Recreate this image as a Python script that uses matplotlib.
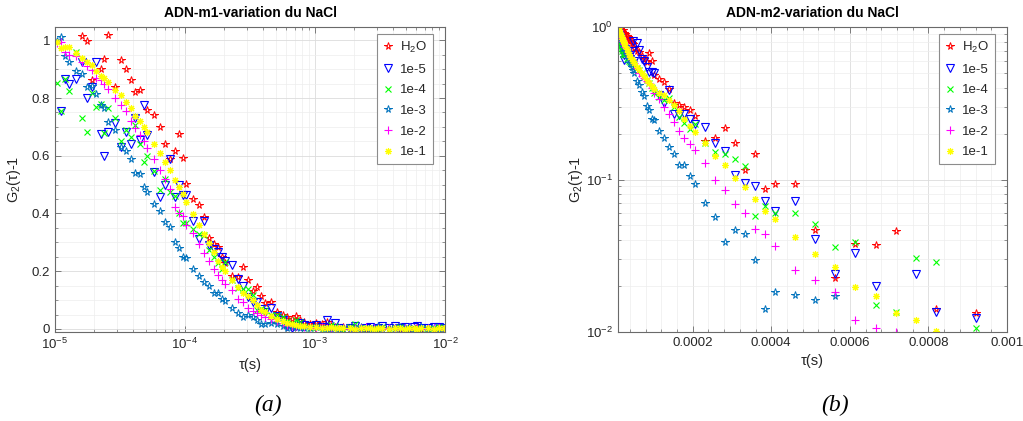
import numpy as np
import matplotlib
matplotlib.use("Agg")
import matplotlib.pyplot as plt
from matplotlib.ticker import FixedLocator, NullFormatter, LogLocator

plt.rcParams['font.family'] = ['Liberation Sans', 'DejaVu Sans']
plt.rcParams['mathtext.fontset'] = 'custom'
plt.rcParams['mathtext.rm'] = 'Liberation Sans'
plt.rcParams['mathtext.it'] = 'Liberation Sans:italic'
plt.rcParams['mathtext.bf'] = 'Liberation Sans:bold'

nan = np.nan

# lag times in microseconds (multi-tau correlator grid)
tau_us = [10.4, 11.2, 12.0, 12.8, 14.4, 16.0, 17.6, 19.2, 20.8, 22.4, 24.0, 25.6,
          28.8, 32.0, 35.2, 38.4, 41.6, 44.8, 48.0, 51.2, 57.6, 64.0, 70.4, 76.8,
          83.2, 89.6, 96.0, 102.4, 115.2, 128.0, 140.8, 153.6, 166.4, 179.2, 192.0, 204.8,
          230.4, 256.0, 281.6, 307.2, 332.8, 358.4, 384.0, 409.6, 460.8, 512.0, 563.2, 614.4,
          665.6, 716.8, 768.0, 819.2, 921.6, 1024.0, 1126.4, 1228.8, 1331.2, 1433.6, 1536.0, 1638.4,
          1843.2, 2048.0, 2252.8, 2457.6, 2662.4, 2867.2, 3072.0, 3276.8, 3686.4, 4096.0, 4505.6, 4915.2,
          5324.8, 5734.4, 6144.0, 6553.6, 7372.8, 8192.0, 9011.2, 9830.4]

labels = ['H$_2$O', '1e-5', '1e-4', '1e-3', '1e-2', '1e-1']

# ---- panel (a): ADN-m1 ----
m1_h2o = [nan, nan, nan, nan, nan, 1.016, 0.999, 0.863, nan, 0.900, 0.935, 1.020,
          0.837, 0.930, 0.900, 0.863, 0.820, 0.828, nan, 0.758, 0.740, 0.700, 0.641, 0.588,
          0.617, 0.674, 0.593, 0.502, 0.449, 0.430, 0.389, 0.314, 0.293, 0.285, 0.250, 0.230,
          0.183, 0.181, 0.216, 0.170, 0.130, 0.144, 0.115, 0.090, 0.092, 0.060, 0.050, 0.040,
          0.035, 0.046, 0.030, 0.025, 0.018, 0.020, 0.017, 0.025, 0.012, 0.008, 0.004, 0.006,
          0.002, -0.004, 0.003, 0.000, 0.004, -0.006, -0.004, 0.005, 0.002, 0.003, -0.002, -0.008,
          -0.009, -0.010, 0.006, 0.001, 0.003, -0.002, 0.002, 0.004]
m1_1e5 = [nan, 0.755, 0.865, 0.850, 0.866, 0.926, 0.800, 0.837, 0.926, 0.674, 0.600, 0.683,
          0.712, 0.631, 0.681, 0.641, 0.730, 0.655, 0.776, 0.672, 0.545, 0.458, 0.500, 0.588,
          0.458, 0.499, 0.464, 0.464, 0.374, 0.310, 0.374, 0.290, 0.277, 0.265, 0.250, 0.235,
          0.222, 0.173, 0.149, 0.110, 0.092, 0.092, 0.070, 0.060, 0.074, 0.045, 0.030, 0.010,
          0.004, 0.012, 0.022, 0.015, 0.012, 0.015, 0.008, 0.030, 0.005, 0.020, 0.002, -0.002,
          0.004, 0.010, -0.004, 0.003, 0.006, -0.003, 0.002, 0.010, 0.005, 0.012, 0.002, 0.006,
          -0.004, 0.008, 0.010, 0.002, 0.004, 0.006, 0.008, 0.004]
m1_1e4 = [0.851, 0.755, 0.866, 0.826, 0.958, 0.732, 0.683, 0.819, 0.768, 0.780, 0.678, 0.764,
          0.730, 0.652, 0.689, 0.666, 0.707, 0.640, 0.577, 0.600, 0.547, 0.481, 0.520, 0.475,
          0.460, 0.400, 0.366, 0.366, 0.345, 0.328, 0.326, 0.274, 0.248, 0.230, 0.207, 0.231,
          0.170, 0.141, 0.140, 0.137, 0.118, 0.066, 0.070, 0.066, 0.050, 0.048, 0.040, 0.028,
          0.020, 0.030, 0.025, 0.012, 0.005, 0.008, -0.006, 0.004, 0.015, 0.010, 0.002, -0.004,
          0.006, 0.016, 0.002, 0.005, -0.006, 0.004, 0.000, 0.008, -0.003, 0.003, 0.006, 0.001,
          0.004, -0.004, 0.002, 0.005, 0.000, 0.003, 0.006, 0.002]
m1_1e3 = [0.998, 1.010, 0.946, 0.924, 0.894, 0.882, 0.839, 0.840, 0.813, 0.776, 0.764, 0.716,
          0.689, 0.631, 0.618, 0.588, 0.541, 0.537, 0.491, 0.473, 0.433, 0.409, 0.370, 0.352,
          0.302, 0.282, 0.248, 0.245, 0.207, 0.184, 0.164, 0.149, 0.124, 0.124, 0.104, 0.097,
          0.072, 0.056, 0.043, 0.048, 0.043, 0.031, 0.017, 0.017, 0.020, 0.018, 0.012, 0.005,
          0.008, 0.006, 0.004, 0.003, 0.005, 0.006, 0.002, 0.000, 0.004, 0.003, 0.001, 0.002,
          0.004, 0.002, 0.006, 0.003, 0.000, 0.004, 0.010, 0.003, 0.002, 0.004, 0.006, 0.002,
          0.003, 0.000, 0.004, 0.006, 0.002, 0.003, 0.001, 0.004]
m1_1e2 = [0.990, 0.995, 0.960, 0.949, 0.946, 0.926, 0.911, 0.897, 0.871, 0.863, 0.849, 0.830,
          0.801, 0.776, 0.756, 0.721, 0.697, 0.672, 0.650, 0.628, 0.588, 0.551, 0.520, 0.484,
          0.424, 0.400, 0.390, 0.360, 0.331, 0.294, 0.264, 0.235, 0.207, 0.187, 0.170, 0.156,
          0.135, 0.103, 0.092, 0.074, 0.063, 0.056, 0.050, 0.043, 0.035, 0.028, 0.020, 0.015,
          0.012, 0.010, 0.012, 0.008, 0.006, 0.004, 0.008, 0.003, 0.001, 0.005, 0.002, 0.004,
          0.000, 0.003, 0.002, 0.006, 0.001, 0.003, 0.004, 0.000, 0.002, 0.005, 0.001, 0.003,
          0.000, 0.004, 0.002, 0.001, 0.003, 0.004, 0.002, 0.001]
m1_1e1 = [0.995, 0.972, 0.976, 0.975, 0.957, 0.937, 0.924, 0.914, 0.895, 0.876, 0.868, 0.857,
          0.828, 0.810, 0.787, 0.764, 0.738, 0.721, 0.701, 0.681, 0.641, 0.609, 0.577, 0.551,
          0.516, 0.491, 0.467, 0.441, 0.398, 0.360, 0.329, 0.297, 0.268, 0.235, 0.214, 0.200,
          0.170, 0.144, 0.126, 0.114, 0.100, 0.083, 0.066, 0.060, 0.045, 0.035, 0.028, 0.022,
          0.018, 0.015, 0.012, 0.010, 0.008, 0.006, 0.005, 0.004, 0.006, 0.003, 0.002, 0.004,
          0.003, 0.001, 0.002, 0.004, 0.003, 0.000, 0.002, 0.003, 0.001, 0.004, 0.002, 0.000,
          0.003, 0.002, 0.001, 0.003, 0.002, 0.001, 0.002, 0.003]

# ---- panel (b): ADN-m2 (first 53 lag times) ----
m2_h2o = [1.00, 0.99, 1.01, 0.98, 1.01, 0.97, 0.95, 0.96, 0.93, 0.96, 0.92, 0.90,
          0.905, 0.87, 0.86, 0.84, 0.81, 0.79, 0.77, 0.73, 0.70, 0.686, 0.643, 0.62,
          0.59, 0.68, 0.60, 0.488, 0.453, 0.433, 0.390, 0.318, 0.31, 0.297, 0.285, 0.26,
          0.180, 0.186, 0.218, 0.173, 0.115, 0.146, 0.086, 0.094, 0.094, 0.047, 0.0225, 0.038,
          0.037, 0.046, nan, 0.0142, 0.0133]
m2_1e5 = [0.95, 0.90, 0.88, 0.84, 0.86, 0.80, 0.78, 0.74, 0.76, 0.70, 0.66, 0.612,
          0.72, 0.68, 0.70, 0.66, 0.62, 0.70, 0.806, 0.60, 0.79, 0.71, 0.62, 0.597,
          0.55, 0.508, 0.508, 0.50, 0.36, 0.316, 0.385, 0.27, 0.266, 0.27, 0.25, 0.231,
          0.222, 0.173, 0.153, 0.107, 0.095, 0.091, 0.072, 0.062, 0.072, 0.041, 0.024, 0.033,
          0.020, nan, 0.024, 0.0135, 0.0123]
m2_1e4 = [0.90, 0.85, 0.78, 0.74, 0.80, 0.76, 0.72, 0.70, 0.74, 0.67, 0.69, 0.66,
          0.67, 0.62, 0.64, 0.60, 0.59, 0.57, 0.59, 0.576, 0.54, 0.52, 0.50, 0.47,
          0.45, 0.43, 0.40, 0.367, 0.35, 0.33, 0.34, 0.30, 0.258, 0.235, 0.213, 0.23,
          0.173, 0.151, 0.147, 0.136, 0.123, 0.058, 0.067, 0.060, 0.060, 0.051, 0.036, 0.039,
          0.0150, 0.0136, 0.0305, 0.0287, 0.0107]
m2_1e3 = [0.98, 0.95, 0.92, 0.90, 0.88, 0.86, 0.84, 0.81, 0.80, 0.78, 0.75, 0.73,
          0.70, 0.67, 0.65, 0.62, 0.58, 0.548, 0.52, 0.496, 0.442, 0.416, 0.376, 0.352,
          0.303, 0.285, 0.251, 0.247, 0.208, 0.186, 0.164, 0.147, 0.125, 0.125, 0.106, 0.094,
          0.070, 0.0565, 0.039, 0.0463, 0.0442, 0.0295, 0.0141, 0.0184, 0.0176, 0.0162, 0.0173, nan,
          nan, nan, nan, nan, nan]
m2_1e2 = [0.98, 0.96, 0.95, 0.93, 0.91, 0.89, 0.87, 0.85, 0.83, 0.81, 0.79, 0.77,
          0.74, 0.72, 0.69, 0.67, 0.64, 0.62, 0.60, 0.58, 0.54, 0.50, 0.48, 0.46,
          0.44, 0.43, 0.40, 0.37, 0.335, 0.30, 0.27, 0.237, 0.208, 0.188, 0.171, 0.156,
          0.128, 0.099, 0.085, 0.069, 0.0607, 0.0475, 0.0437, 0.0369, 0.0256, 0.0218, 0.0184, 0.0119,
          0.0106, 0.0100, nan, nan, nan]
m2_1e1 = [1.00, 0.98, 0.96, 0.95, 0.92, 0.90, 0.88, 0.86, 0.84, 0.82, 0.80, 0.78,
          0.75, 0.72, 0.69, 0.67, 0.64, 0.62, 0.60, 0.58, 0.55, 0.52, 0.50, 0.48,
          0.45, 0.43, 0.41, 0.39, 0.37, 0.357, 0.33, 0.308, 0.28, 0.25, 0.224, 0.204,
          0.173, 0.143, 0.125, 0.103, 0.089, 0.074, 0.062, 0.055, 0.0418, 0.0323, 0.0266, 0.0198,
          0.0173, 0.0133, 0.0119, 0.0101, nan]

styles = [
    dict(marker='*', color=(1, 0, 0), ms=5.5, mfc='none', mew=0.7),
    dict(marker='v', color=(0, 0, 1), ms=5.5, mfc='none', mew=0.8),
    dict(marker='x', color=(0, 1, 0), ms=5, mew=0.8),
    dict(marker='*', color=(0, 0.447, 0.741), ms=5.5, mfc='none', mew=0.7),
    dict(marker='+', color=(1, 0, 1), ms=6, mew=0.8),
    dict(marker=(8, 2, 0), color=(1, 1, 0), ms=5, mew=0.8),
]

tau_s = np.array(tau_us) * 1e-6
set_a = [m1_h2o, m1_1e5, m1_1e4, m1_1e3, m1_1e2, m1_1e1]
set_b = [m2_h2o, m2_1e5, m2_1e4, m2_1e3, m2_1e2, m2_1e1]

fig = plt.figure(figsize=(10.23, 4.21), dpi=100)
W, H = 1023.0, 421.0
ax1 = fig.add_axes([55 / W, 1 - 332 / H, 390 / W, 305 / H])
ax2 = fig.add_axes([618 / W, 1 - 332 / H, 389 / W, 305 / H])

axcol = '#6a6a6a'
txtcol = '#262626'

def style_axes(ax):
    for s in ax.spines.values():
        s.set_color(axcol)
        s.set_linewidth(0.8)
    ax.tick_params(which='both', direction='in', top=True, right=True,
                   colors=axcol, labelcolor=txtcol, labelsize=9.5)
    ax.tick_params(which='major', length=4, width=0.6)
    ax.tick_params(which='minor', length=2, width=0.5)
    ax.grid(True, which='major', color='#dcdcdc', linewidth=0.6)
    ax.grid(True, which='minor', color='#ededed', linewidth=0.5)
    ax.set_axisbelow(True)

for vals, st, lab in zip(set_a, styles, labels):
    ax1.plot(tau_s, vals, linestyle='none', label=lab, **st)
ax1.set_xscale('log')
ax1.set_xlim(1e-5, 1e-2)
ax1.set_ylim(-0.0105, 1.046)
ax1.set_yticks([0, 0.2, 0.4, 0.6, 0.8, 1.0])
ax1.set_yticklabels(['0', '0.2', '0.4', '0.6', '0.8', '1'])
ax1.yaxis.set_minor_locator(FixedLocator(np.arange(0, 1.05, 0.05)))
ax1.xaxis.set_minor_locator(LogLocator(base=10, subs=np.arange(2, 10)))
ax1.xaxis.set_minor_formatter(NullFormatter())
style_axes(ax1)
ax1.set_title('ADN-m1-variation du NaCl', fontsize=10, fontweight='bold', color='black', pad=7)
ax1.set_xlabel('τ(s)', fontsize=10.5, color=txtcol, labelpad=4)
ax1.set_ylabel('G$_2$(τ)-1', fontsize=10.5, color=txtcol, labelpad=6)

n_b = len(m2_h2o)
for vals, st, lab in zip(set_b, styles, labels):
    ax2.plot(tau_s[:n_b], vals, linestyle='none', label=lab, **st)
ax2.set_yscale('log')
ax2.set_xlim(1e-5, 1e-3)
ax2.set_ylim(1e-2, 1.0)
ax2.set_xticks([0.0002, 0.0004, 0.0006, 0.0008, 0.001])
ax2.set_xticklabels(['0.0002', '0.0004', '0.0006', '0.0008', '0.001'])
ax2.xaxis.set_minor_locator(FixedLocator(np.arange(0.00004, 0.001, 0.00004)))
ax2.yaxis.set_minor_locator(LogLocator(base=10, subs=np.arange(2, 10)))
ax2.yaxis.set_minor_formatter(NullFormatter())
style_axes(ax2)
ax2.set_title('ADN-m2-variation du NaCl', fontsize=10, fontweight='bold', color='black', pad=7)
ax2.set_xlabel('τ(s)', fontsize=10.5, color=txtcol, labelpad=4)
ax2.set_ylabel('G$_2$(τ)-1', fontsize=10.5, color=txtcol, labelpad=1)

for ax in (ax1, ax2):
    leg = ax.legend(loc='upper right', bbox_to_anchor=(0.969, 0.977), fontsize=9.5,
                    frameon=True, fancybox=False, framealpha=1, edgecolor='#8c8c8c',
                    handlelength=0.8, handletextpad=0.5, labelspacing=0.64,
                    borderpad=0.45, borderaxespad=0)
    leg.get_frame().set_linewidth(0.8)
    for t in leg.get_texts():
        t.set_color(txtcol)

fig.text(268 / W, 1 - 405 / H, '(a)', ha='center', va='center', fontsize=17,
         family='Liberation Serif', style='italic')
fig.text(835 / W, 1 - 405 / H, '(b)', ha='center', va='center', fontsize=17,
         family='Liberation Serif', style='italic')

fig.savefig('out.png', dpi=100)
